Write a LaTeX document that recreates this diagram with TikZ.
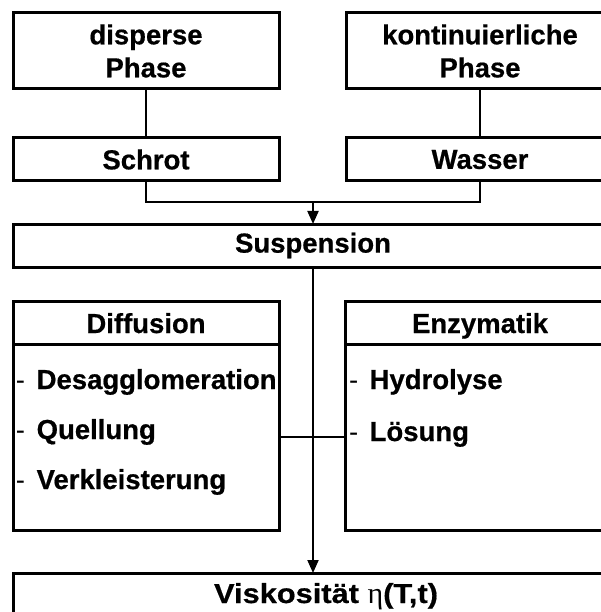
\documentclass[tikz,border=0pt]{standalone}
\usepackage{fontspec}
\setmainfont{Liberation Sans}[BoldFeatures={FakeBold=0.6}]
\newfontfamily\etafont{Liberation Serif}
\usetikzlibrary{arrows.meta}
\newcommand{\itemdash}{{\mdseries -}\hspace{11.5pt}}
\begin{document}
\begin{tikzpicture}[x=1pt,y=1pt,
  box/.style={draw, line width=3pt, rectangle, inner sep=0pt, outer sep=0pt, align=center,
    font=\fontsize{27.5}{33}\selectfont\bfseries},
  txt/.style={inner sep=0pt, outer sep=0pt, font=\fontsize{27.5}{33}\selectfont\bfseries},
  item/.style={txt, anchor=base west},
  conn/.style={line width=2pt},
  arr/.style={conn, -{Triangle[length=13pt,width=11pt]}}]
\useasboundingbox (0,0) rectangle (601,-612);
% top boxes
\node[box, minimum width=266, minimum height=76] (dp) at (146,-51) {disperse\\Phase};
\node[box, minimum width=268, minimum height=76] (kp) at (480,-51) {kontinuierliche\\Phase};
\node[box, minimum width=266, minimum height=43] (schrot) at (146,-159.5) {Schrot};
\node[box, minimum width=268, minimum height=43] (wasser) at (480,-159.5) {Wasser};
\node[box, minimum width=600, minimum height=43] (susp) at (313,-245.5) {Suspension};
% middle boxes
\node[box, minimum width=266, minimum height=229] (diff) at (146,-415.5) {};
\node[box, minimum width=269, minimum height=229] (enz) at (479.5,-415.5) {};
\coordinate (hd) at (0,-344);
\coordinate (hl) at (0,-437);
\draw[line width=3pt] (diff.west |- hd) -- (diff.east |- hd);
\draw[line width=3pt] (enz.west |- hd) -- (enz.east |- hd);
\node[txt, anchor=base] (difft) at (146,-333) {Diffusion};
\node[txt, anchor=base] (enzt) at (480,-333) {Enzymatik};
\node[item] (d1) at (16,-389) {\itemdash Desagglomeration};
\node[item] (d2) at (16,-439) {\itemdash Quellung};
\node[item] (d3) at (16,-489) {\itemdash Verkleisterung};
\node[item] (e1) at (349,-389) {\itemdash Hydrolyse};
\node[item] (e2) at (349,-441) {\itemdash Lösung};
% bottom box
\node[box, minimum width=626, minimum height=90, anchor=north,
  label={[txt, anchor=base, yshift=-30pt]north:\addfontfeature{FakeStretch=1.12}Viskosität {\etafont\mdseries\fontsize{30}{33}\selectfont η}(T,t)}] (visk) at (326,-573) {};
% connectors
\draw[conn] (dp.south) -- (schrot.north);
\draw[conn] (kp.south) -- (wasser.north);
\coordinate (m) at (313,-202);
\draw[conn] (schrot.south) |- (m) -| (wasser.south);
\draw[arr] (m) -- (susp.north);
\draw[arr] (susp.south) -- (susp.south |- visk.north);
\draw[conn] (diff.east |- hl) -- (enz.west |- hl);
\end{tikzpicture}
\end{document}
